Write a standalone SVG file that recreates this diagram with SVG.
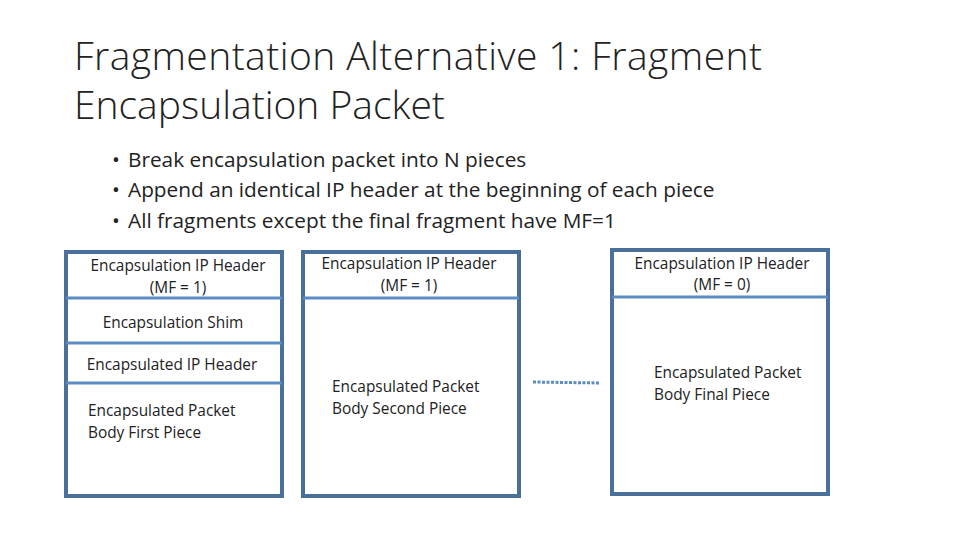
<svg xmlns="http://www.w3.org/2000/svg" width="960" height="540" viewBox="0 0 960 540">
<style>
.t{font-family:"Open Sans","Liberation Sans",sans-serif;fill:#222}
.box{fill:#fff;stroke:#4a6f98;stroke-width:4}
.div{stroke:#5b8cc4;stroke-width:3}
.lb{font-size:15.4px}
</style>
<rect width="960" height="540" fill="#fff"/>
<text class="t" x="74" y="70" font-size="39" font-weight="300" textLength="688" lengthAdjust="spacing">Fragmentation Alternative 1: Fragment</text>
<text class="t" x="74" y="119" font-size="39" font-weight="300">Encapsulation Packet</text>
<g class="t" font-size="20.8">
<text x="112" y="167">•</text><text x="128" y="167">Break encapsulation packet into N pieces</text>
<text x="112" y="197">•</text><text x="128" y="197">Append an identical IP header at the beginning of each piece</text>
<text x="112" y="228">•</text><text x="128" y="228">All fragments except the final fragment have MF=1</text>
</g>
<g id="frag1">
<rect class="box" x="66" y="252" width="216" height="244"/>
<line class="div" x1="66" y1="298" x2="282" y2="298"/>
<line class="div" x1="66" y1="343" x2="282" y2="343"/>
<line class="div" x1="66" y1="383" x2="282" y2="383"/>
<text class="t lb" x="178" y="271" text-anchor="middle">Encapsulation IP Header</text>
<text class="t lb" x="178" y="293" text-anchor="middle">(MF = 1)</text>
<text class="t lb" x="173" y="328" text-anchor="middle">Encapsulation Shim</text>
<text class="t lb" x="172" y="370" text-anchor="middle">Encapsulated IP Header</text>
<text class="t lb" x="88" y="416">Encapsulated Packet</text>
<text class="t lb" x="88" y="438">Body First Piece</text>
</g>
<g id="frag2">
<rect class="box" x="303" y="252" width="216" height="244"/>
<line class="div" x1="303" y1="298" x2="519" y2="298"/>
<text class="t lb" x="409" y="269" text-anchor="middle">Encapsulation IP Header</text>
<text class="t lb" x="409" y="291" text-anchor="middle">(MF = 1)</text>
<text class="t lb" x="332" y="392">Encapsulated Packet</text>
<text class="t lb" x="332" y="414">Body Second Piece</text>
</g>
<g id="frag3">
<rect class="box" x="612" y="250" width="216" height="244"/>
<line class="div" x1="612" y1="297" x2="828" y2="297"/>
<text class="t lb" x="722" y="269" text-anchor="middle">Encapsulation IP Header</text>
<text class="t lb" x="722" y="290" text-anchor="middle">(MF = 0)</text>
<text class="t lb" x="654" y="378">Encapsulated Packet</text>
<text class="t lb" x="654" y="400">Body Final Piece</text>
</g>
<g id="connectors">
<line x1="533" y1="382" x2="600" y2="383" stroke="#5b8cc4" stroke-width="3" stroke-dasharray="3 1.5"/>
</g>
</svg>
